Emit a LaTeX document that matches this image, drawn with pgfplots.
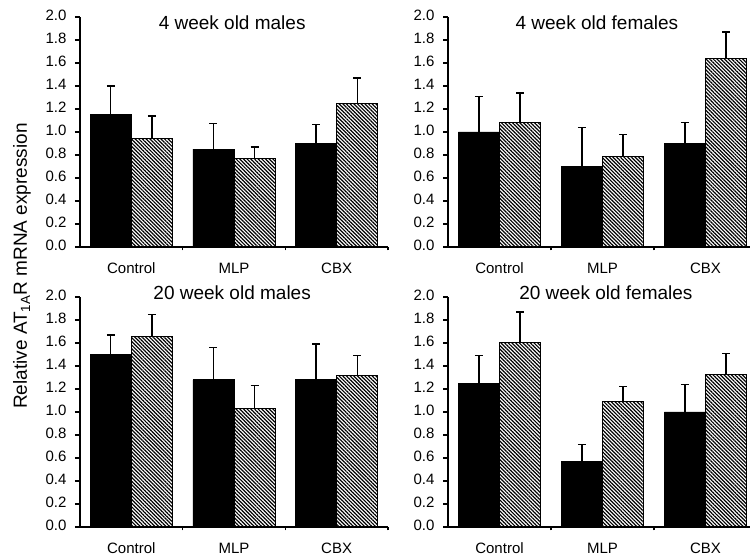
\documentclass[border=0pt]{standalone}
\usepackage{fontspec}
\setmainfont{Liberation Sans}
\usepackage{pgfplots}
\usepackage{pgfplotstable}
\pgfplotsset{compat=1.18}
\usetikzlibrary{patterns.meta}

% x, value, error (upper)
\pgfplotstableread{
x y e
-0.2 1.15 0.25
0.8 0.85 0.225
1.8 0.90 0.165
}\TLa
\pgfplotstableread{
x y e
0.2 0.94 0.20
1.2 0.77 0.10
2.2 1.25 0.22
}\TLb
\pgfplotstableread{
x y e
-0.2 1.00 0.31
0.8 0.70 0.34
1.8 0.90 0.18
}\TRa
\pgfplotstableread{
x y e
0.2 1.08 0.26
1.2 0.79 0.19
2.2 1.64 0.23
}\TRb
\pgfplotstableread{
x y e
-0.2 1.50 0.17
0.8 1.28 0.28
1.8 1.28 0.31
}\BLa
\pgfplotstableread{
x y e
0.2 1.66 0.19
1.2 1.03 0.20
2.2 1.32 0.17
}\BLb
\pgfplotstableread{
x y e
-0.2 1.25 0.24
0.8 0.57 0.15
1.8 1.00 0.24
}\BRa
\pgfplotstableread{
x y e
0.2 1.60 0.27
1.2 1.09 0.13
2.2 1.33 0.18
}\BRb

\tikzset{ttl/.style={font=\fontsize{19}{22}\selectfont, anchor=center}}

\pgfplotsset{
  panel/.style={
    scale only axis, width=308pt, height=230pt,
    anchor=south west,
    xmin=-0.5, xmax=2.5, ymin=0, ymax=2.0,
    axis x line=bottom, axis y line=left,
    axis line style={-, line width=1.2pt, black},
    xtick={0,1,2}, xticklabels={Control,MLP,CBX},
    minor xtick={0.5,1.5,2.5},
    major x tick style={draw=none},
    minor tick length=3.5pt,
    major tick length=5pt,
    ytick={0,0.2,0.4,0.6,0.8,1.0,1.2,1.4,1.6,1.8,2.0},
    tick align=outside,
    tick style={line width=1.2pt, black},
    ticklabel style={font=\fontsize{15}{18}\selectfont},
    typeset ticklabels with strut,
    xticklabel style={yshift=-5.5pt},
    yticklabel style={xshift=-5pt, /pgf/number format/.cd, fixed, fixed zerofill, precision=1, assume math mode=true},
    clip=false,
  },
  blackbar/.style={ybar, bar width=0.4, bar shift=0pt, fill=black, draw=black, line width=0.8pt,
    error bars/.cd, y dir=plus, y explicit,
    error bar style={line width=1.3pt, black, solid},
    error mark options={rotate=90, mark size=4pt, line width=1.3pt, black}},
  hatchbar/.style={ybar, bar width=0.4, bar shift=0pt, fill=white, draw=black, line width=1pt,
    postaction={pattern={Lines[angle=-45, distance=2.6pt, line width=1.2pt]}, pattern color=black},
    error bars/.cd, y dir=plus, y explicit,
    error bar style={line width=1.3pt, black, solid},
    error mark options={rotate=90, mark size=4pt, line width=1.3pt, black}},
}

\begin{document}
\begin{tikzpicture}
\path[use as bounding box] (0,0) rectangle (750pt,559pt);

% top-left
\begin{axis}[panel, at={(80pt,312pt)}]
\addplot[blackbar] table[x=x, y=y, y error=e] {\TLa};
\addplot[hatchbar] table[x=x, y=y, y error=e] {\TLb};
\node[ttl] at (axis description cs:0.494,0.975) {4 week old males};
\end{axis}

% top-right
\begin{axis}[panel, width=309pt, at={(448pt,312pt)}]
\addplot[blackbar] table[x=x, y=y, y error=e] {\TRa};
\addplot[hatchbar] table[x=x, y=y, y error=e] {\TRb};
\node[ttl] at (axis description cs:0.482,0.975) {4 week old females};
\end{axis}

% bottom-left
\begin{axis}[panel, at={(80pt,32pt)}]
\addplot[blackbar] table[x=x, y=y, y error=e] {\BLa};
\addplot[hatchbar] table[x=x, y=y, y error=e] {\BLb};
\node[ttl] at (axis description cs:0.494,1.017) {20 week old males};
\end{axis}

% bottom-right
\begin{axis}[panel, width=309pt, at={(448pt,32pt)}]
\addplot[blackbar] table[x=x, y=y, y error=e] {\BRa};
\addplot[hatchbar] table[x=x, y=y, y error=e] {\BRb};
\node[ttl] at (axis description cs:0.511,1.017) {20 week old females};
\end{axis}

\node[rotate=90, font=\fontsize{19}{22}\selectfont, anchor=center] at (22pt,293pt) {Relative AT\textsubscript{1A}R mRNA expression};
\end{tikzpicture}
\end{document}
